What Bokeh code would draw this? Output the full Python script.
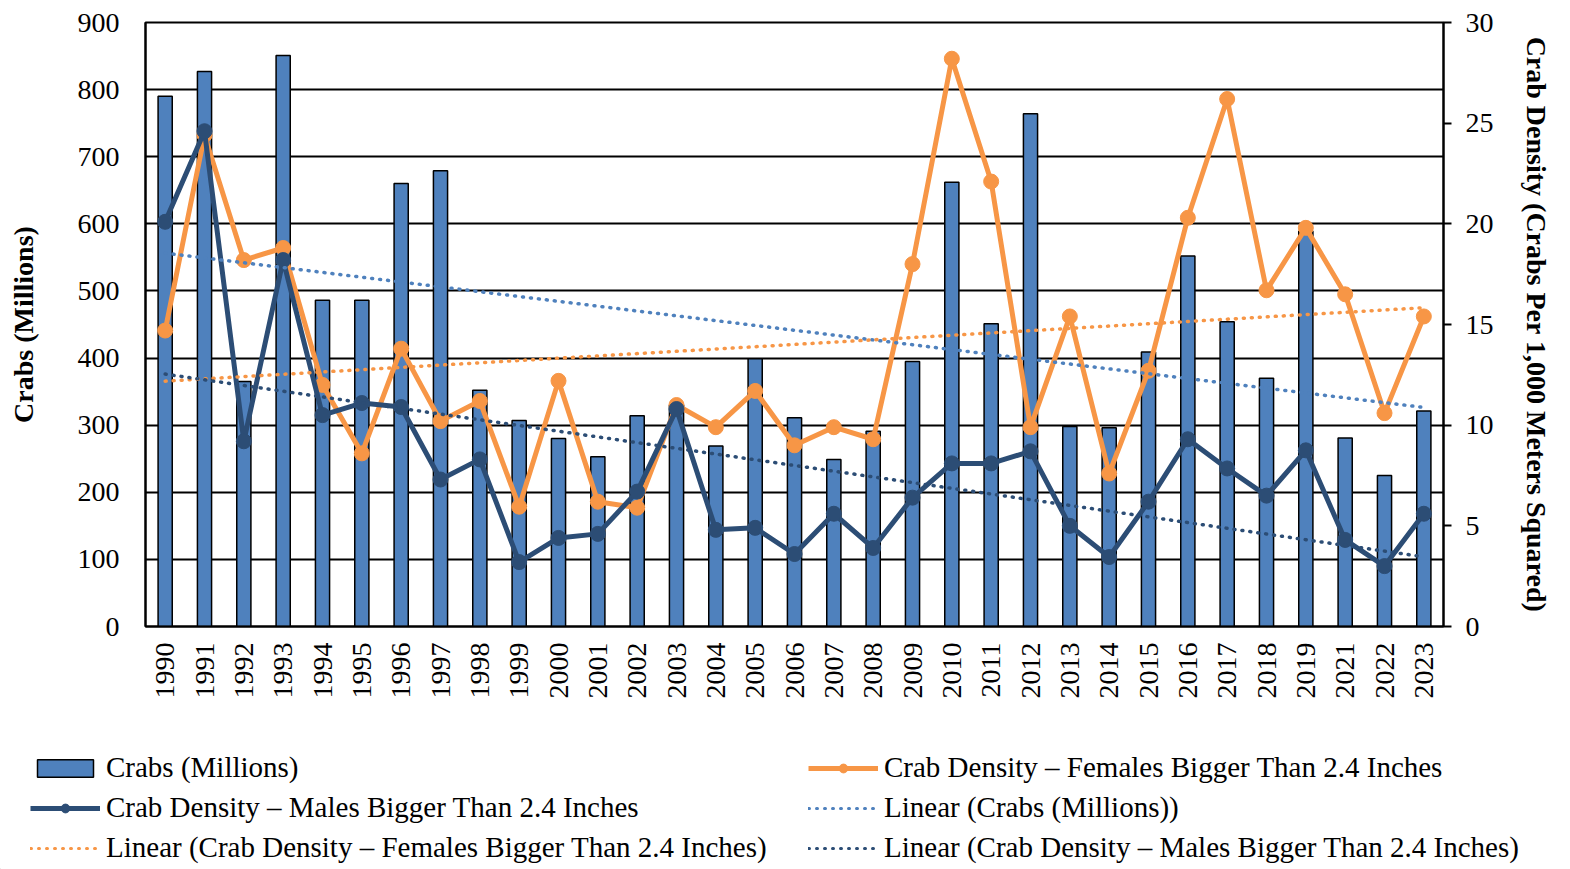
import numpy as np
from bokeh.plotting import figure
from bokeh.layouts import column
from bokeh.models import (FactorRange, Range1d, LinearAxis, Legend, LegendItem,
                          ColumnDataSource, FixedTicker)
from bokeh.embed import file_html
from bokeh.resources import INLINE

years = ["1990", "1991", "1992", "1993", "1994", "1995", "1996", "1997", "1998", "1999",
         "2000", "2001", "2002", "2003", "2004", "2005", "2006", "2007", "2008", "2009",
         "2010", "2011", "2012", "2013", "2014", "2015", "2016", "2017", "2018", "2019",
         "2021", "2022", "2023"]

crabs_millions = [790, 827, 365, 851, 486, 486, 660, 679, 352, 307,
                  280, 253, 314, 330, 269, 399, 311, 249, 291, 395,
                  662, 451, 764, 298, 296, 409, 552, 454, 370, 589,
                  281, 225, 321]

females_density = [14.7, 24.4, 18.2, 18.8, 12.0, 8.6, 13.8, 10.2, 11.2, 5.95,
                   12.2, 6.2, 5.9, 11.0, 9.9, 11.7, 9.0, 9.9, 9.3, 18.0,
                   28.2, 22.1, 9.9, 15.4, 7.6, 12.7, 20.3, 26.2, 16.7, 19.8,
                   16.5, 10.6, 15.4]

males_density = [20.1, 24.6, 9.2, 18.2, 10.5, 11.1, 10.9, 7.3, 8.3, 3.2,
                 4.4, 4.6, 6.7, 10.8, 4.8, 4.9, 3.6, 5.6, 3.9, 6.4,
                 8.1, 8.1, 8.7, 5.0, 3.45, 6.2, 9.3, 7.85, 6.5, 8.75,
                 4.3, 3.0, 5.6]

left_ticks = [0, 100, 200, 300, 400, 500, 600, 700, 800, 900]
right_ticks = [0, 5, 10, 15, 20, 25, 30]

# Excel-style linear trendlines (least squares over category index)
idx = np.arange(1, len(years) + 1)
def trend(vals):
    a, b = np.polyfit(idx, np.array(vals, dtype=float), 1)
    return list(a * idx + b)

crabs_trend = trend(crabs_millions)
fem_trend = trend(females_density)
male_trend = trend(males_density)

BAR = "#4F81BD"
ORANGE = "#F79646"
DARK = "#2C4D75"
FONT = "Liberation Serif"

src = ColumnDataSource(dict(year=years, crabs=crabs_millions, fem=females_density,
                            male=males_density, ct=crabs_trend, ft=fem_trend, mt=male_trend))

p = figure(width=1554, height=708, x_range=FactorRange(*years),
           y_range=Range1d(0, 900), output_backend="svg", toolbar_location=None,
           min_border_left=145, min_border_right=109, min_border_top=22, min_border_bottom=82)
p.frame_align = False
p.x_range.range_padding = 0
p.x_range.factor_padding = 0
p.extra_y_ranges = {"dens": Range1d(0, 30)}

p.outline_line_color = "black"
p.outline_line_width = 2
p.background_fill_color = "white"
p.border_fill_color = "white"

p.vbar(x="year", top="crabs", width=0.36, source=src, fill_color=BAR,
       line_color="black", line_width=1.5)

p.line(x="year", y="fem", source=src, y_range_name="dens", line_color=ORANGE, line_width=5)
p.scatter(x="year", y="fem", source=src, y_range_name="dens", size=15,
          fill_color=ORANGE, line_color=ORANGE)
p.line(x="year", y="male", source=src, y_range_name="dens", line_color=DARK, line_width=5)
p.scatter(x="year", y="male", source=src, y_range_name="dens", size=15,
          fill_color=DARK, line_color=DARK)

p.line(x="year", y="ct", source=src, line_color=BAR, line_width=3.5,
       line_dash="1 7", line_cap="round")
p.line(x="year", y="ft", source=src, y_range_name="dens", line_color=ORANGE, line_width=3.5,
       line_dash="1 7", line_cap="round")
p.line(x="year", y="mt", source=src, y_range_name="dens", line_color=DARK, line_width=3.5,
       line_dash="1 7", line_cap="round")

# grid
p.xgrid.grid_line_color = None
p.ygrid.grid_line_color = "black"
p.ygrid.grid_line_width = 2
p.ygrid.ticker = FixedTicker(ticks=left_ticks)

# left axis
ya = p.yaxis[0]
ya.ticker = FixedTicker(ticks=left_ticks)
ya.axis_label = "Crabs (Millions)"
ya.axis_label_text_font = FONT
ya.axis_label_text_font_style = "bold"
ya.axis_label_text_font_size = "28px"
ya.axis_label_text_color = "black"
ya.axis_label_standoff = 36
ya.major_label_text_font = FONT
ya.major_label_text_font_size = "28px"
ya.major_label_text_color = "black"
ya.major_label_standoff = 20
ya.major_tick_line_color = None
ya.minor_tick_line_color = None
ya.axis_line_color = "black"
ya.axis_line_width = 2

# right axis
ra = LinearAxis(y_range_name="dens", ticker=FixedTicker(ticks=right_ticks),
                axis_label="Crab Density (Crabs Per 1,000 Meters Squared)")
ra.axis_label_text_font = FONT
ra.axis_label_text_font_style = "bold"
ra.axis_label_text_font_size = "28px"
ra.axis_label_text_color = "black"
ra.axis_label_standoff = 24
ra.major_label_text_font = FONT
ra.major_label_text_font_size = "28px"
ra.major_label_text_color = "black"
ra.major_label_standoff = 14
ra.major_tick_in = 0
ra.major_tick_out = 8
ra.major_tick_line_width = 2
ra.minor_tick_line_color = None
ra.axis_line_color = "black"
ra.axis_line_width = 2
p.add_layout(ra, "right")

# x axis
xa = p.xaxis[0]
xa.major_label_orientation = np.pi / 2
xa.major_label_text_font = FONT
xa.major_label_text_font_size = "28px"
xa.major_label_text_color = "black"
xa.major_label_standoff = 10
xa.major_tick_line_color = None
xa.axis_line_color = "black"
xa.axis_line_width = 2

# ---- legend strip (separate figure below the chart) ----
lg = figure(width=1554, height=161, x_range=Range1d(0, 1), y_range=Range1d(0, 1),
            output_backend="svg", toolbar_location=None,
            x_axis_location=None, y_axis_location=None, min_border=0)
lg.frame_align = False
lg.outline_line_color = None
lg.xgrid.visible = False
lg.ygrid.visible = False
# legend-only sample renderers, placed outside the visible range
hidden = ColumnDataSource(dict(x=[-10], y=[-10], top=[-10]))
d_bar = lg.vbar(x="x", top="top", width=0.36, source=hidden, fill_color=BAR,
                line_color="black", line_width=1.5)
d_fl = lg.line(x="x", y="y", source=hidden, line_color=ORANGE, line_width=5)
d_fm = lg.scatter(x="x", y="y", source=hidden, size=15, fill_color=ORANGE, line_color=ORANGE)
d_ml = lg.line(x="x", y="y", source=hidden, line_color=DARK, line_width=5)
d_mm = lg.scatter(x="x", y="y", source=hidden, size=15, fill_color=DARK, line_color=DARK)
d_ct = lg.line(x="x", y="y", source=hidden, line_color=BAR, line_width=3,
               line_dash="1 7", line_cap="round")
d_ft = lg.line(x="x", y="y", source=hidden, line_color=ORANGE, line_width=3,
               line_dash="1 7", line_cap="round")
d_mt = lg.line(x="x", y="y", source=hidden, line_color=DARK, line_width=3,
               line_dash="1 7", line_cap="round")

legend = Legend(items=[
    LegendItem(label="Crabs (Millions)", renderers=[d_bar]),
    LegendItem(label="Crab Density \u2013 Males Bigger Than 2.4 Inches", renderers=[d_ml, d_mm]),
    LegendItem(label="Linear (Crab Density \u2013 Females Bigger Than 2.4 Inches)", renderers=[d_ft]),
    LegendItem(label="Crab Density \u2013 Females Bigger Than 2.4 Inches", renderers=[d_fl, d_fm]),
    LegendItem(label="Linear (Crabs (Millions))", renderers=[d_ct]),
    LegendItem(label="Linear (Crab Density \u2013 Males Bigger Than 2.4 Inches)", renderers=[d_mt]),
], ncols=2, location=(30, 5))
legend.label_text_font = FONT
legend.label_text_font_size = "29px"
legend.label_text_color = "black"
legend.glyph_width = 70
legend.glyph_height = 22
legend.label_height = 33
legend.label_standoff = 6
legend.label_width = 695
legend.spacing = 7
legend.padding = 0
legend.margin = 0
legend.border_line_color = None
legend.background_fill_alpha = 0
lg.add_layout(legend, "center")

layout = column(p, lg, spacing=0)
open("out.html", "w").write(file_html(layout, INLINE))
